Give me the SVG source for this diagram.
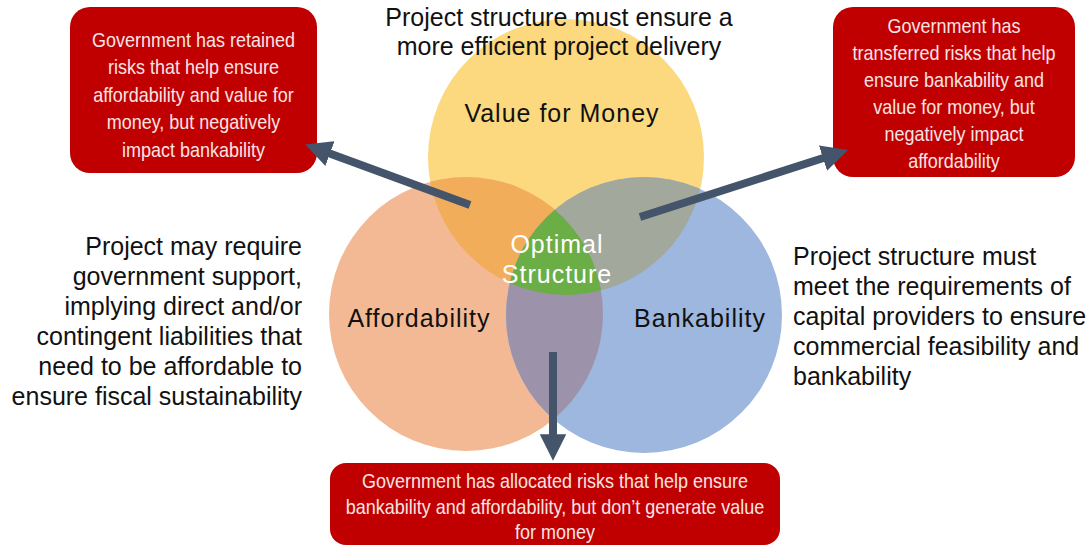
<svg xmlns="http://www.w3.org/2000/svg" width="1092" height="546" viewBox="0 0 1092 546">
<style>
.big{font-family:"Liberation Sans",Arial,sans-serif;font-size:25px;fill:#111}
.lbl{font-family:"Liberation Sans",Arial,sans-serif;font-size:25px;fill:#111;letter-spacing:1px;text-anchor:middle}
.opt{font-family:"Liberation Sans",Arial,sans-serif;font-size:25px;fill:#fff;letter-spacing:1px;text-anchor:middle}
.box{fill:#C00000}
.bt{font-family:"Liberation Sans",Arial,sans-serif;font-size:20px;fill:#F8E4E4;text-anchor:middle}
.arr{stroke:#44546A;stroke-width:8;fill:none;marker-end:url(#ah)}
</style>
<defs>
<marker id="ah" viewBox="0 0 10 10" refX="2" refY="5" markerWidth="3.3" markerHeight="3.3" orient="auto">
<path d="M0,0 L10,5 L0,10 z" fill="#44546A"/>
</marker>
<circle id="cY" cx="566" cy="157" r="138"/>
<circle id="cO" cx="466" cy="314" r="137"/>
<circle id="cB" cx="644" cy="315" r="138"/>
<clipPath id="clY"><use href="#cY"/></clipPath>
<clipPath id="clO"><use href="#cO"/></clipPath>
<clipPath id="clB"><use href="#cB"/></clipPath>
</defs>
<rect width="1092" height="546" fill="#fff"/>
<g id="venn">
<use href="#cY" fill="#FCD97E"/>
<use href="#cO" fill="#F3B994"/>
<use href="#cB" fill="#9DB7DF"/>
<use href="#cO" fill="#F1AD5A" clip-path="url(#clY)"/>
<use href="#cB" fill="#A3A89C" clip-path="url(#clY)"/>
<use href="#cB" fill="#9C93AA" clip-path="url(#clO)"/>
<g clip-path="url(#clY)"><use href="#cB" fill="#6BAE46" clip-path="url(#clO)"/></g>
</g>
<g id="label-vfm"><text class="lbl" x="562" y="122">Value for Money</text></g>
<g id="label-afford"><text class="lbl" x="419" y="327">Affordability</text></g>
<g id="label-bank"><text class="lbl" x="700" y="327">Bankability</text></g>
<g id="label-optimal"><text class="opt" x="557" y="253">Optimal</text><text class="opt" x="557" y="283">Structure</text></g>
<g id="note-top"><text class="big" text-anchor="middle"><tspan x="559" y="26">Project structure must ensure a</tspan><tspan x="559" y="55">more efficient project delivery</tspan></text></g>
<g id="note-left"><text class="big" text-anchor="end"><tspan x="302" y="255">Project may require</tspan><tspan x="302" y="285">government support,</tspan><tspan x="302" y="315">implying direct and/or</tspan><tspan x="302" y="345">contingent liabilities that</tspan><tspan x="302" y="375">need to be affordable to</tspan><tspan x="302" y="405">ensure fiscal sustainability</tspan></text></g>
<g id="note-right"><text class="big"><tspan x="793" y="265">Project structure must</tspan><tspan x="793" y="295">meet the requirements of</tspan><tspan x="793" y="325">capital providers to ensure</tspan><tspan x="793" y="355">commercial feasibility and</tspan><tspan x="793" y="385">bankability</tspan></text></g>
<g id="box-retained">
<rect class="box" x="70" y="7" width="247" height="166" rx="20"/>
<text class="bt" transform="translate(193.5,47) scale(0.9,1)"><tspan x="0" y="0">Government has retained</tspan><tspan x="0" y="27.5">risks that help ensure</tspan><tspan x="0" y="55">affordability and value for</tspan><tspan x="0" y="82.5">money, but negatively</tspan><tspan x="0" y="110">impact bankability</tspan></text>
</g>
<g id="box-transferred">
<rect class="box" x="833" y="7" width="242" height="170" rx="20"/>
<text class="bt" transform="translate(954,32.5) scale(0.9,1)"><tspan x="0" y="0">Government has</tspan><tspan x="0" y="27.2">transferred risks that help</tspan><tspan x="0" y="54.4">ensure bankability and</tspan><tspan x="0" y="81.6">value for money, but</tspan><tspan x="0" y="108.8">negatively impact</tspan><tspan x="0" y="136">affordability</tspan></text>
</g>
<g id="box-allocated">
<rect class="box" x="330" y="463" width="450" height="82" rx="16"/>
<text class="bt" transform="translate(555,488) scale(0.9,1)"><tspan x="0" y="0">Government has allocated risks that help ensure</tspan><tspan x="0" y="26">bankability and affordability, but don’t generate value</tspan><tspan x="0" y="51">for money</tspan></text>
</g>
<g id="connectors">
<line class="arr" x1="470" y1="205" x2="325" y2="151.7"/>
<line class="arr" x1="640" y1="217" x2="828" y2="156.5"/>
<line class="arr" x1="553" y1="352" x2="553" y2="439.6"/>
</g>
</svg>
